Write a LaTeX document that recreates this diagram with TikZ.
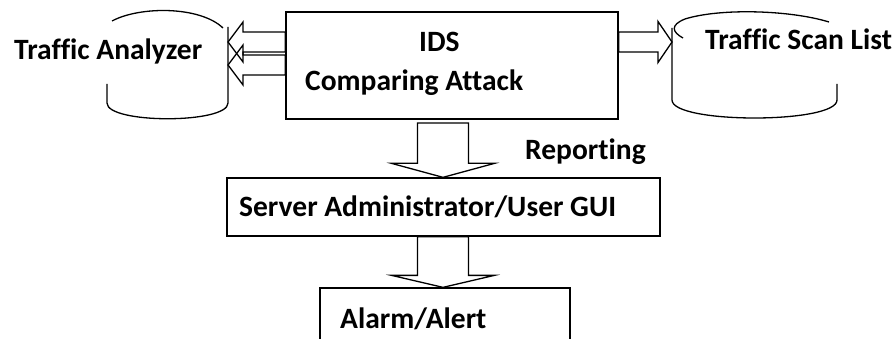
\documentclass[tikz,border=0pt]{standalone}
\usepackage{fontspec}
\setmainfont{Carlito}[Ligatures=NoCommon]
\usetikzlibrary{calc}

% hollow block arrow: start, tip, head length, shaft half width, head half width
\newcommand{\fatarrow}[5]{%
  \coordinate (fa-c) at ($(#2)!#3!(#1)$);
  \draw[blk] ($(#1)!#4!90:(#2)$) -- ($(fa-c)!#4!-90:(#1)$) -- ($(fa-c)!#5!-90:(#1)$)
    -- (#2) -- ($(fa-c)!#5!90:(#1)$) -- ($(fa-c)!#4!90:(#1)$) -- ($(#1)!#4!-90:(#2)$) -- cycle;}

\tikzset{
  box/.style={draw, line width=1.3pt, inner sep=0pt},
  blk/.style={line width=1.3pt, line join=miter},
  drum/.style={line width=1.3pt},
  lbl/.style={font=\fontsize{29.5}{34}\selectfont\bfseries, inner sep=0pt, anchor=base west},
}

\begin{document}
\begin{tikzpicture}[x=1pt, y=-1pt]
    \clip (0,0) rectangle (893,339);
    \fill[white] (0,0) rectangle (893,339);

    \node[box, minimum width=332, minimum height=107] (ids) at (452,65.5) {};
    \node[box, minimum width=433, minimum height=58] (srv) at (443.5,207) {};
    \node[box, minimum width=250, minimum height=64] (alarm) at (445,320) {};

    \node[lbl] (idst) at (419,52) {IDS};
    \node[lbl] (cmp) at (305,91) {Comparing Attack};
    \node[lbl] (tan) at (14,60) {Traffic Analyzer};
    \node[lbl] (tsl) at (705,50) {Traffic Scan List};
    \node[lbl] (rep) at (525,160) {Reporting};
    \node[lbl] (srvt) at (239,216) {Server Administrator/User GUI};
    \node[lbl] (alt) at (340,328) {Alarm/Alert};

    % drums
    \draw[drum] (112,21) .. controls (140,6) and (200,6) .. (223,28);
    \draw[drum] (228,27) -- (228,103) .. controls (228,124) and (107,124) .. (107,103) -- (107,84);
    \draw[drum] (683,38) .. controls (672,32) and (670,25) .. (685,19) .. controls (720,8) and (790,10) .. (829,22);
    \draw[drum] (672,28) -- (672,100) .. controls (672,124) and (837,124) .. (837,100) -- (837,84);

    \coordinate (ta1) at (228,42);
    \coordinate (ta2) at (228,65);
    \coordinate (ts1) at (672,42);
    \coordinate (r0) at (443,123);

    \fatarrow{ids.west |- ta1}{ta1}{15pt}{10pt}{20pt}
    \fatarrow{ids.west |- ta2}{ta2}{15pt}{10pt}{20pt}
    \fatarrow{ids.east |- ts1}{ts1}{14pt}{10pt}{20.5pt}
    \fatarrow{r0}{r0 |- srv.north}{14pt}{25.5pt}{51.5pt}
    \fatarrow{r0 |- srv.south}{r0 |- alarm.north}{12pt}{25.5pt}{51.5pt}
\end{tikzpicture}
\end{document}
